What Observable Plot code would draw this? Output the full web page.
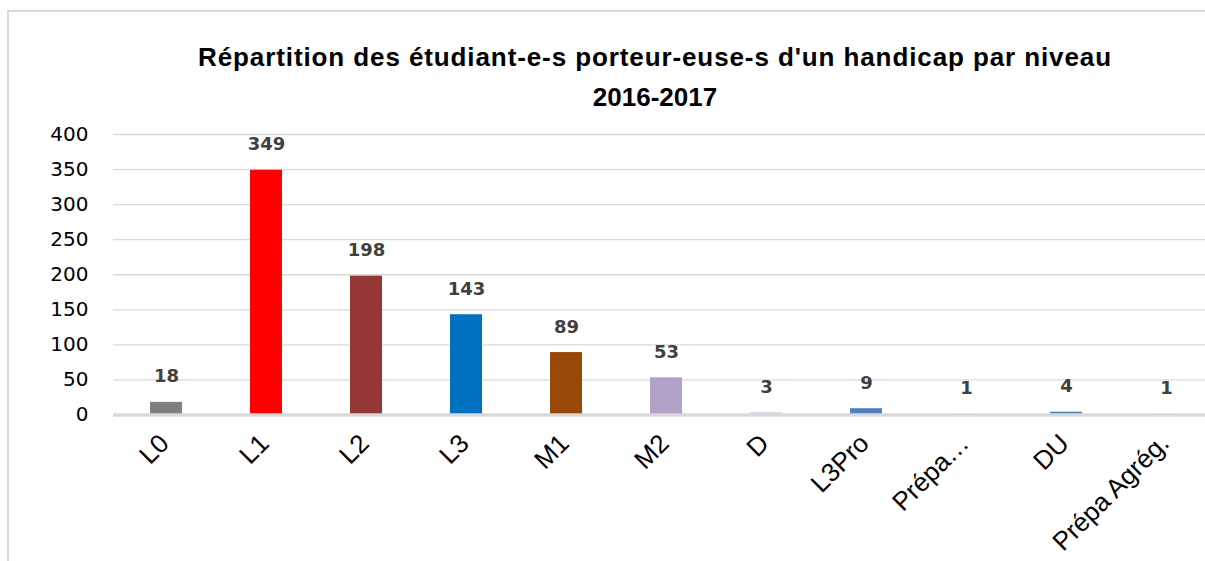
<!DOCTYPE html>
<html>
<head>
<meta charset="utf-8">
<script src="https://cdn.jsdelivr.net/npm/d3@7"></script>
<script src="https://cdn.jsdelivr.net/npm/@observablehq/plot@0.6"></script>
<style>
  html, body { margin: 0; padding: 0; background: #fff; }
  #wrap { position: relative; width: 1205px; height: 561px; overflow: hidden; }
  #frame { position: absolute; left: 7px; top: 10px; width: 1400px; height: 700px;
           border-left: 2px solid #d9d9d9; border-top: 2px solid #d9d9d9; }
  #title { position: absolute; left: 0; top: 37px; width: 1310px; text-align: center;
           font-family: "Liberation Sans", Arial, sans-serif; font-weight: bold;
           font-size: 26px; line-height: 40px; color: #000; }
  #title .l1 { letter-spacing: 0.9px; }
  #chart { position: absolute; left: 0; top: 0; }
  #chart svg { overflow: hidden; }
</style>
</head>
<body>
<div id="wrap">
  <div id="frame"></div>
  <div id="chart"></div>
  <div id="title"><span class="l1">Répartition des étudiant-e-s porteur-euse-s d'un handicap par niveau</span><br>2016-2017</div>
</div>
<script>
const categories = ["L0", "L1", "L2", "L3", "M1", "M2", "D", "L3Pro", "Prépa…", "DU", "Prépa Agrég."];
const values = [18, 349, 198, 143, 89, 53, 3, 9, 1, 4, 1];
const colors = ["#7f7f7f", "#ff0000", "#953735", "#0070c0", "#984807", "#b3a2c7", "#b9cde5", "#4f81bd", "#c6d9f1", "#4f81bd", "#b9cde5"];
const yTicks = [0, 50, 100, 150, 200, 250, 300, 350, 400];

const data = categories.map((c, i) => ({cat: c, value: values[i], color: colors[i]}));

const chart = Plot.plot({
  width: 1205,
  height: 561,
  marginLeft: 113,
  marginRight: 0,
  marginTop: 134,
  marginBottom: 146.5,
  style: {background: "transparent"},
  x: {domain: categories, range: [114, 1218], paddingInner: 0.68, paddingOuter: 0.34, axis: null},
  y: {domain: [0, 400], axis: null},
  color: {type: "identity"},
  marks: [
    Plot.ruleY(yTicks.filter(d => d > 0), {stroke: "#d9d9d9", strokeWidth: 1.3}),
    Plot.barY(data, {x: "cat", y: "value", fill: "color"}),
    Plot.ruleY([0], {stroke: "#d9d9d9", strokeWidth: 3.5}),
    Plot.text(yTicks, {y: d => d, text: d => String(d), frameAnchor: "left", textAnchor: "end", dx: -25,
      fontSize: 20, fontFamily: "DejaVu Sans", fill: "#000"}),
    Plot.text(data, {x: "cat", y: "value", text: d => String(d.value), lineAnchor: "bottom", dy: -20,
      fontSize: 18, fontWeight: "bold", fontFamily: "DejaVu Sans", fill: "#404040"}),
    Plot.text(data, {x: "cat", text: "cat", frameAnchor: "bottom", rotate: -45, textAnchor: "end",
      dx: 4, dy: 30, fontSize: 26, fontFamily: "Liberation Sans", fill: "#000"})
  ]
});
document.getElementById("chart").appendChild(chart);
</script>
</body>
</html>
